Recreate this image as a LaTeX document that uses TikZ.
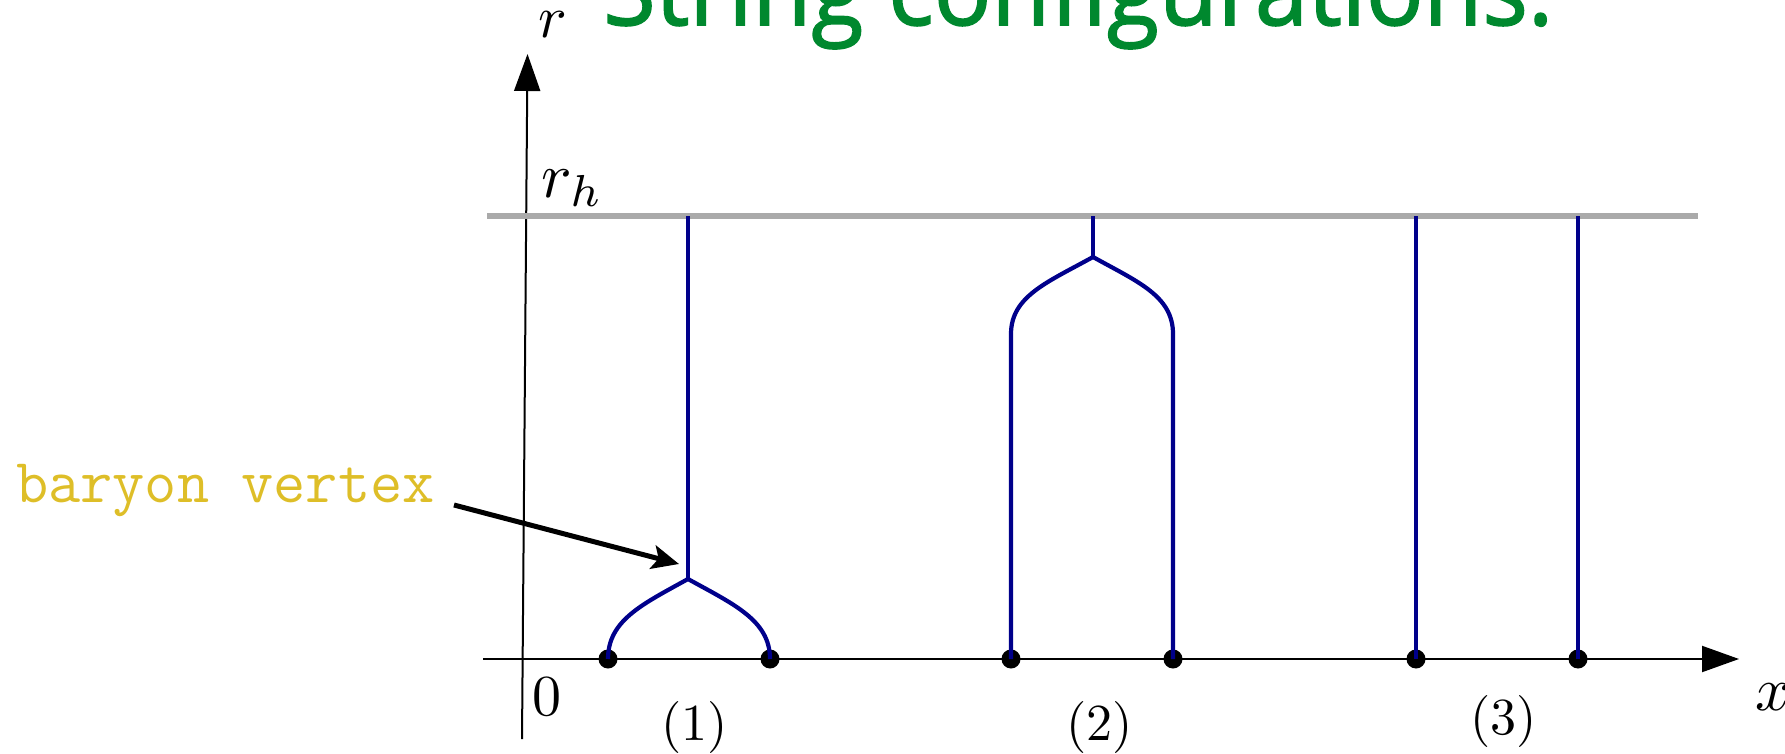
\documentclass[tikz,border=0pt]{standalone}
\usepackage{fontspec}
\newfontfamily\titlefont[FakeBold=1.6]{Open Sans}
\usetikzlibrary{arrows.meta}
\definecolor{strblue}{RGB}{0,0,139}
\definecolor{titlegreen}{RGB}{0,136,46}
\definecolor{bvgold}{RGB}{222,190,40}
\definecolor{horizon}{RGB}{170,170,170}
\newcommand{\biglbl}[2]{\scalebox{#1}{$#2$}}
\tikzset{
  axisline/.style={line width=2pt, -{Triangle[length=37pt,width=26pt]}},
  horizonline/.style={draw=horizon, line width=5.5pt},
  dotnode/.style={circle, fill=black, inner sep=0pt, minimum size=19pt},
  strline/.style={draw=strblue, line width=4.2pt, line join=miter},
  mathlbl/.style={inner sep=0pt, font=\normalsize},
  bvlabel/.style={inner sep=0pt, text=bvgold, font=\ttfamily\fontsize{62.5}{75}\selectfont},
  pointer/.style={line width=5pt, -{Stealth[length=27pt,width=24pt,inset=6pt]}},
}
\begin{document}
\begin{tikzpicture}[x=1pt,y=-1pt]
\useasboundingbox (0,0) rectangle (1785,754);

% title (cut at the top edge)
\node[anchor=base west, inner sep=0pt, text=titlegreen,
      font=\titlefont\fontsize{100}{110}\selectfont] (title) at (603,25)
      {\resizebox{950pt}{\height}{String configurations.}};

% axes
\coordinate (rbot) at (522,739);
\coordinate (rtop) at (527.5,54);
\coordinate (xleft) at (483,659);
\coordinate (xright) at (1739,659);
\draw[axisline] (rbot) -- (rtop);
\draw[axisline] (xleft) -- (xright);

% horizon
\coordinate (hleft) at (487,216);
\coordinate (hright) at (1698,216);
\draw[horizonline] (hleft) -- (hright);

% labels
\node[mathlbl, anchor=base west] (rlab) at (538,38) {\biglbl{6}{r}};
\node[mathlbl, anchor=base west] (rhlab) at (541,197) {\biglbl{6.4}{r_h}};
\node[mathlbl, anchor=base west] (xlab) at (1755,710) {\biglbl{6.2}{x}};
\node[mathlbl] (zero) at (547,697) {\biglbl{5.8}{0}};
\node[mathlbl] (c1) at (695,727) {\biglbl{5.2}{(1)}};
\node[mathlbl] (c2) at (1100,727) {\biglbl{5.2}{(2)}};
\node[mathlbl] (c3) at (1504,721) {\biglbl{5.2}{(3)}};

% endpoints on the boundary
\node[dotnode] (d1) at (608,659) {};
\node[dotnode] (d2) at (770,659) {};
\node[dotnode] (d3) at (1011,659) {};
\node[dotnode] (d4) at (1173,659) {};
\node[dotnode] (d5) at (1416,659) {};
\node[dotnode] (d6) at (1578,659) {};

% horizon points
\coordinate (h1) at (688,216);
\coordinate (h2) at (1093,216);
\coordinate (h5) at (1416,216);
\coordinate (h6) at (1578,216);

% configuration (1)
\coordinate (v1) at (688,579);
\draw[strline] (d1.center) .. controls (608,620) and (643,604) .. (v1)
                .. controls (733,604) and (770,620) .. (d2.center);
\draw[strline] (v1) -- (h1);

% configuration (2)
\coordinate (v2) at (1093,257);
\coordinate (k3) at (1011,334);
\coordinate (k4) at (1173,334);
\draw[strline] (d3.center) -- (k3) .. controls (1011,296) and (1048,282) .. (v2)
                .. controls (1138,282) and (1173,296) .. (k4) -- (d4.center);
\draw[strline] (v2) -- (h2);

% configuration (3)
\draw[strline] (d5.center) -- (h5);
\draw[strline] (d6.center) -- (h6);

% baryon vertex label and pointer
\node[bvlabel, anchor=base west] (bv) at (16,502) {baryon vertex};
\coordinate (bvstart) at (454,505);
\coordinate (bvtip) at (679,564);
\draw[pointer] (bvstart) -- (bvtip);
\end{tikzpicture}
\end{document}
